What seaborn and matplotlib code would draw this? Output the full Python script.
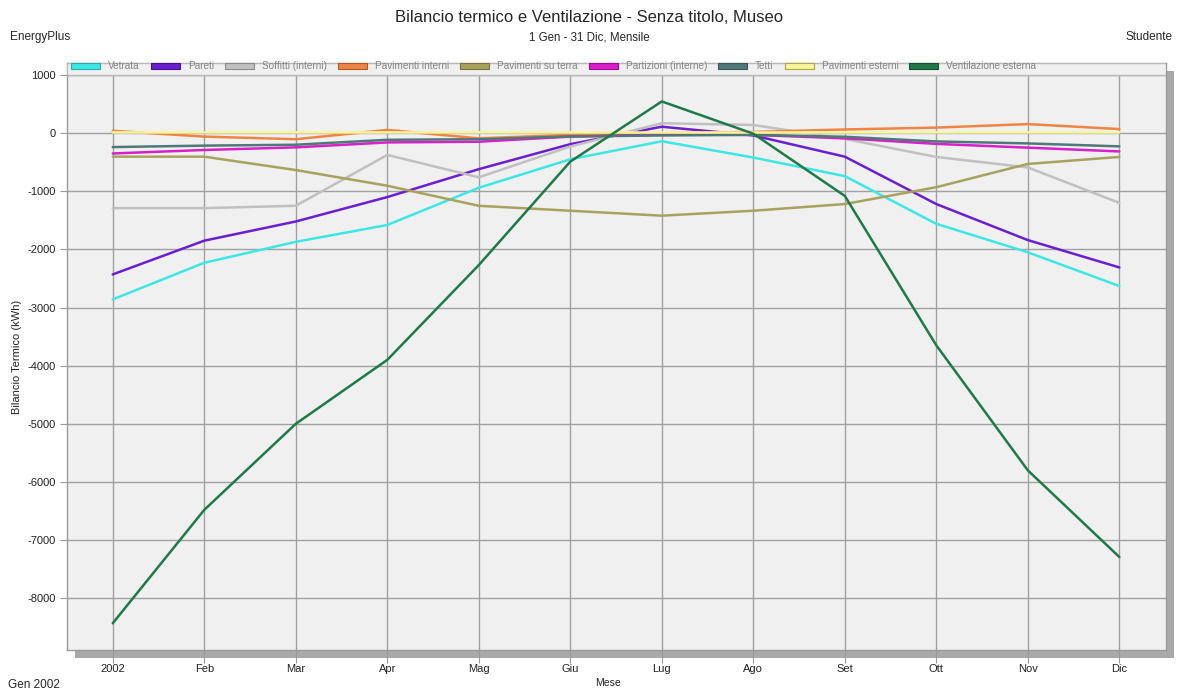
import pandas as pd
import matplotlib.pyplot as plt
import seaborn as sns
from matplotlib.patches import Patch, Rectangle

# Monthly heat balance values (kWh)
mesi = ["2002", "Feb", "Mar", "Apr", "Mag", "Giu", "Lug", "Ago", "Set", "Ott", "Nov", "Dic"]

vetrata = [-2860, -2230, -1870, -1580, -940, -450, -140, -420, -740, -1560, -2050, -2630]
pareti = [-2430, -1850, -1520, -1100, -620, -190, 110, -40, -405, -1220, -1840, -2310]
soffitti = [-1290, -1290, -1250, -375, -760, -230, 170, 140, -100, -410, -590, -1200]
pav_interni = [40, -60, -105, 55, -90, -30, 0, 20, 63, 95, 155, 70]
pav_terra = [-405, -405, -635, -905, -1250, -1335, -1420, -1335, -1220, -930, -530, -410]
partizioni = [-350, -290, -245, -160, -148, -60, -25, -30, -90, -185, -250, -315]
tetti = [-240, -215, -200, -115, -105, -57, -40, -30, -63, -143, -177, -228]
pav_esterni = [12, 12, 12, 12, 12, 12, 10, 10, 12, 12, 12, 12]
ventilazione = [-8430, -6480, -5000, -3900, -2270, -490, 545, -10, -1080, -3650, -5800, -7290]

serie = ["Vetrata", "Pareti", "Soffitti (interni)", "Pavimenti interni", "Pavimenti su terra",
         "Partizioni (interne)", "Tetti", "Pavimenti esterni", "Ventilazione esterna"]
valori = [vetrata, pareti, soffitti, pav_interni, pav_terra, partizioni, tetti, pav_esterni, ventilazione]
colori = ["#3ee6e6", "#6c1fd0", "#c0c0c0", "#ef8545", "#a9a25e",
          "#d91fcc", "#4f7878", "#fbf59a", "#1f7a48"]
bordi = ["#2aaaaa", "#4a1090", "#8a8a8a", "#b05a28", "#7a7440",
         "#9a1090", "#3a5858", "#b0a840", "#145030"]

df = pd.DataFrame({
    "mese": list(range(12)) * len(serie),
    "valore": [v for vals in valori for v in vals],
    "serie": [s for s in serie for _ in range(12)],
})

sns.set_style("whitegrid")
plt.rcParams["font.family"] = ["Liberation Sans", "DejaVu Sans"]
plt.rcParams["axes.unicode_minus"] = False

fig = plt.figure(figsize=(11.78, 6.93), dpi=100)
W, H = 1178, 693

# drop shadow behind the plot area
shadow = fig.add_axes([75 / W, 35 / H, 1099 / W, 587 / H])
shadow.set_facecolor("#a9a9a9")
shadow.set_xticks([])
shadow.set_yticks([])
for sp in shadow.spines.values():
    sp.set_visible(False)
shadow.grid(False)

ax = fig.add_axes([67 / W, 43 / H, 1099 / W, 587 / H])

sns.lineplot(data=df, x="mese", y="valore", hue="serie", hue_order=serie,
             palette=dict(zip(serie, colori)), linewidth=1.8, ax=ax, legend=False)

ax.set_facecolor("#eff0ef")
ax.set_xlim(-0.5, 11.51)
ax.set_ylim(-8890, 1206)
ax.set_xticks(range(12))
ax.set_xticklabels(mesi)
ax.set_yticks(range(-8000, 1001, 1000))
ax.grid(True, color="#a0a0a0", linewidth=1)
for sp in ax.spines.values():
    sp.set_color("#9a9a9a")
    sp.set_linewidth(1)
ax.tick_params(axis="x", length=9, color="#9a9a9a", labelsize=8, pad=1, labelcolor="#222222")
ax.tick_params(axis="y", length=5, color="#9a9a9a", labelsize=8, pad=3, labelcolor="#222222")
ax.tick_params(left=True, bottom=True)
ax.set_xlabel("")
ax.set_ylabel("Bilancio Termico (kWh)", fontsize=8, labelpad=4, color="#222222")

# legend strip across the top of the plot
ax.add_patch(Rectangle((0, 1 - 12 / 587), 1, 12 / 587, transform=ax.transAxes,
                       facecolor="#f0f0f0", edgecolor="#b8b8b8", linewidth=1, zorder=5))
handles = [Patch(facecolor=c, edgecolor=b, linewidth=0.8) for c, b in zip(colori, bordi)]
leg = ax.legend(handles, serie, loc="upper left", bbox_to_anchor=(0.002, 1.006), ncol=9,
                frameon=False, fontsize=7.2, handlelength=2.9, handleheight=0.45,
                handletextpad=0.8, columnspacing=1.1, borderpad=0.2, borderaxespad=0)
leg.set_zorder(6)
for t in leg.get_texts():
    t.set_color("#858585")

fig.text(0.5, 1 - 18 / H, "Bilancio termico e Ventilazione - Senza titolo, Museo",
         ha="center", va="center", fontsize=12)
fig.text(0.5, 1 - 37 / H, "1 Gen - 31 Dic, Mensile", ha="center", va="center", fontsize=8.3)
fig.text(10 / W, 1 - 37 / H, "EnergyPlus", ha="left", va="center", fontsize=8.5)
fig.text(1172 / W, 1 - 37 / H, "Studente", ha="right", va="center", fontsize=8.5)
fig.text(608 / W, 1 - 683 / H, "Mese", ha="center", va="center", fontsize=7.5)
fig.text(8 / W, 1 - 685 / H, "Gen 2002", ha="left", va="center", fontsize=8.5)

fig.savefig("out.png", dpi=100, facecolor="white")
